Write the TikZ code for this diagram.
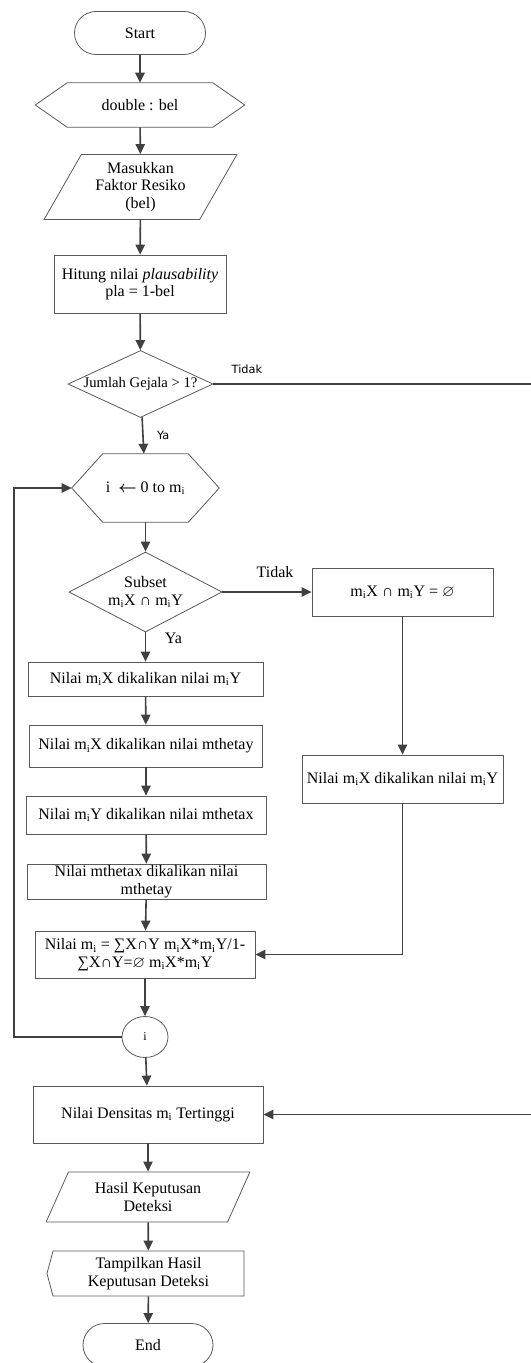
\documentclass[tikz,border=0pt]{standalone}
\usepackage{amsmath,amssymb}
\usepackage{fontspec}
\setmainfont{Liberation Serif}
\newfontfamily\lblsans{DejaVu Sans}
\usepackage{tikz}
\usetikzlibrary{shapes.geometric,shapes.misc,shapes.symbols,arrows.meta}
\newcommand{\msub}{m\textsubscript{i}}

\begin{document}
\begin{tikzpicture}[x=0.75pt,y=-0.75pt,
  font=\fontsize{12}{13}\selectfont,
  garis/.style={draw=black!65,line width=0.6pt},
  shp/.style={garis,inner sep=0pt,align=center},
  term/.style={shp,rounded rectangle,minimum width=98.25pt,minimum height=32.25pt},
  hexa/.style={rectangle,inner sep=0pt,align=center},
  io/.style={shp,trapezium,trapezium stretches=true,
             trapezium left angle=#1,trapezium right angle=180-#1},
  box/.style={shp,rectangle},
  dec/.style={shp,diamond},
  arr/.style={-{Triangle[length=7.5pt,width=7pt]},line width=1.2pt,draw=black!75},
  lbl/.style={font=\lblsans\fontsize{8.5}{10}\selectfont,inner sep=1pt},
  tlbl/.style={inner sep=1pt}
]
\useasboundingbox (0,0) rectangle (531,1363);

\node[term] (start) at (140,33) {Start};
\node[hexa,minimum width=156.75pt,minimum height=33pt] (decl) at (140,105) {double : bel};
\node[io=60,minimum width=144.75pt,minimum height=48.75pt] (input) at (140.5,187)
  {Masukkan\\Faktor Resiko\\(bel)};
\node[box,minimum width=129pt,minimum height=43.5pt] (hitung) at (140,284)
  {Hitung nilai \textit{plausability}\\pla = 1-bel};
\node[dec,aspect=2.16,minimum width=108.75pt,minimum height=50.25pt,
      font=\fontsize{11}{12}\selectfont] (cekgejala) at (140.5,384) {Jumlah Gejala > 1?};
\node[hexa,minimum width=110.25pt,minimum height=51pt] (loopi) at (145.5,488)
  {i \ $\boldsymbol{\leftarrow}$ 0 to \msub};
\node[dec,aspect=1.9,minimum width=114.75pt,minimum height=60pt] (subset) at (145.5,592)
  {Subset\\\msub X ∩ \msub Y};
\node[box,minimum width=176.25pt,minimum height=25.5pt] (kali1) at (145.5,679)
  {Nilai \msub X dikalikan nilai \msub Y};
\node[box,minimum width=174.75pt,minimum height=31.5pt] (kali2) at (146,746)
  {Nilai \msub X dikalikan nilai mthetay};
\node[box,minimum width=180pt,minimum height=28.5pt] (kali3) at (146,815)
  {Nilai \msub Y dikalikan nilai mthetax};
\node[box,minimum width=179.25pt,minimum height=26.25pt] (kali4) at (146.5,881.5)
  {Nilai mthetax dikalikan nilai\\mthetay};
\node[box,minimum width=165pt,minimum height=35.25pt] (hitmi) at (145,954.5)
  {Nilai \msub{} = ∑X∩Y \msub X*\msub Y/1-\\∑X∩Y=$\varnothing$ \msub X*\msub Y};
\node[shp,ellipse,minimum width=34.5pt,minimum height=30.75pt] (conn) at (145,1037)
  {\fontsize{9}{10}\selectfont i};
\node[box,minimum width=172.5pt,minimum height=42.75pt] (densitas) at (148,1114.5)
  {Nilai Densitas \msub{} Tertinggi};
\node[io=62.5,minimum width=153pt,minimum height=37.5pt] (hasil) at (148,1197)
  {Hasil Keputusan\\Deteksi};
\node[shp,signal,signal to=west,signal from=nowhere,signal pointer angle=150,
      minimum width=147.75pt,minimum height=33.75pt] (tampil) at (148.5,1273.5)
  {Tampilkan Hasil\\Keputusan Deteksi};
\node[term,minimum width=97.5pt] (stop) at (148,1345) {End};

% kolom kanan
\node[box,minimum width=135.75pt,minimum height=36pt] (kosong) at (402.5,592)
  {\msub X ∩ \msub Y = $\varnothing$};
\node[box,minimum width=150.75pt,minimum height=36pt] (kalixy) at (402.5,779)
  {Nilai \msub X dikalikan nilai \msub Y};

% garis hexagon
\foreach \n/\d in {decl/24pt,loopi/23.25pt}
  \draw[garis] (\n.west) -- ([xshift=\d]\n.north west) -- ([xshift=-\d]\n.north east)
    -- (\n.east) -- ([xshift=-\d]\n.south east) -- ([xshift=\d]\n.south west) -- cycle;

\coordinate (kanan) at (533,384);
\coordinate (balik) at (14,1037);

\draw[arr](start)--(decl);
\draw[arr](decl)--(input);
\draw[arr](input)--(hitung);
\draw[arr](hitung)--(cekgejala);
\draw[arr](cekgejala)--(loopi) node[lbl,right=9pt,midway]{Ya};
\draw[arr](cekgejala.east)--(kanan) node[lbl,above=6pt,pos=0.105]{Tidak}
  |-(densitas.east);
\draw[arr](loopi)--(subset);
\draw[arr](subset)--(kali1) node[tlbl,right=13pt,pos=0.2]{Ya};
\draw[arr](subset)--(kosong) node[tlbl,above=9pt,pos=0.59]{Tidak};
\draw[arr](kosong)--(kalixy);
\draw[arr](kalixy.south)|-(hitmi.east);
\draw[arr](kali1)--(kali2);
\draw[arr](kali2)--(kali3);
\draw[arr](kali3)--(kali4);
\draw[arr](kali4)--(hitmi);
\draw[arr](hitmi)--(conn);
\draw[arr](conn.west)--(balik)|-(loopi.west);
\draw[arr](conn)--(densitas);
\draw[arr](densitas)--(hasil);
\draw[arr](hasil)--(tampil);
\draw[arr](tampil)--(stop);
\end{tikzpicture}
\end{document}
